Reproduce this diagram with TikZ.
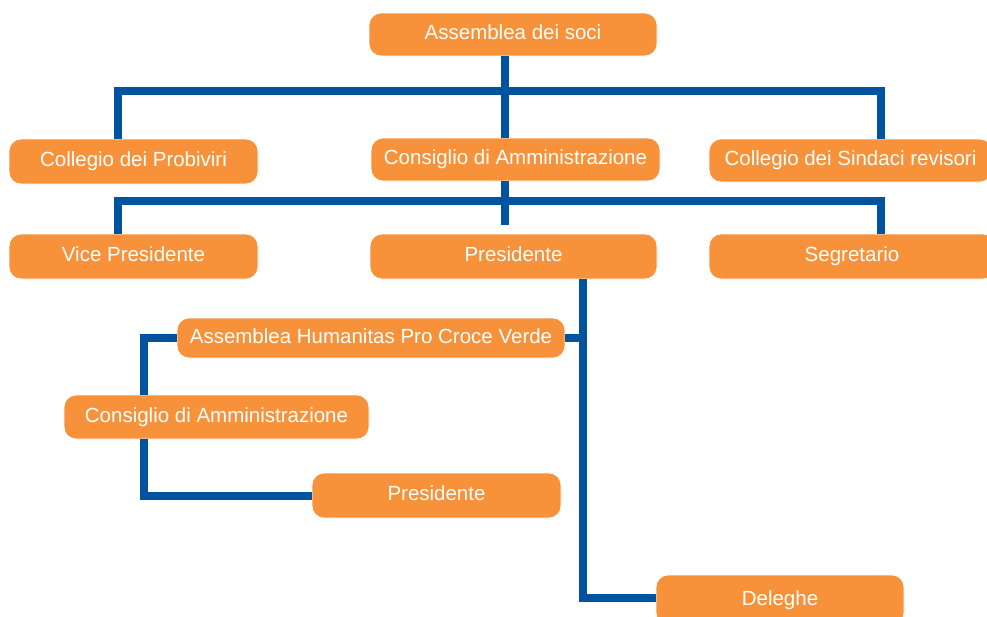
\documentclass[tikz,border=0pt]{standalone}
\usepackage{fontspec}
\setmainfont{Liberation Sans}
\usepackage{tikz}
\definecolor{boxorange}{RGB}{247,146,58}
\definecolor{linkblue}{RGB}{0,83,159}

\begin{document}
\begin{tikzpicture}[x=1pt,y=-1pt,
    box/.style={rectangle,rounded corners=12pt,fill=boxorange,text=white,draw=white,line width=0.8pt,
        minimum height=45pt,inner sep=0pt,text height=15pt,text depth=4.5pt,
        font=\fontsize{20.5}{24}\selectfont},
    link/.style={draw=linkblue,line width=8pt,line join=miter}]
    \useasboundingbox (0,0) rectangle (987,616);

    % top level
    \node[box,minimum width=288pt,minimum height=43pt] (soci) at (513,34.5) {Assemblea dei soci};
    \node[box,minimum width=249pt] (probiviri) at (133.5,161.5) {Collegio dei Probiviri};
    \node[box,minimum width=289pt,minimum height=43pt] (cda) at (515.5,159.5) {Consiglio di Amministrazione};
    \node[box,minimum width=283pt,minimum height=43pt] (sindaci) at (850.5,160.5) {Collegio dei Sindaci revisori};

    % second level
    \node[box,minimum width=249pt] (vice) at (133.5,256.5) {Vice Presidente};
    \node[box,minimum width=287pt] (pres) at (513.5,256.5) {Presidente};
    \node[box,minimum width=286pt] (segr) at (852,256.5) {Segretario};

    % lower part
    \node[box,minimum width=388pt,minimum height=40pt] (humanitas) at (371,338) {Assemblea Humanitas Pro Croce Verde};
    \node[box,minimum width=305pt,minimum height=44pt] (cdab) at (216.5,417) {Consiglio di Amministrazione};
    \node[box,minimum width=249pt] (presb) at (436.5,495.5) {Presidente};
    \node[box,minimum width=248pt,minimum height=50pt] (deleghe) at (780,600) {Deleghe};

    % bus points
    \coordinate (t1) at (118,90.5);
    \coordinate (t2) at (505,90.5);
    \coordinate (t3) at (880.5,90.5);
    \coordinate (m1) at (118,201);
    \coordinate (m2) at (505,225);
    \coordinate (m3) at (880.5,201);
    \coordinate (d) at (583,597.5);
    \coordinate (h) at (144,338);

    \draw[link] (soci.south -| t2) -- (cda.north -| t2);
    \draw[link] (probiviri.north -| t1) -- (t1) -- (t3) -- (sindaci.north -| t3);
    \draw[link] (cda.south -| m2) -- (m2);
    \draw[link] (vice.north -| m1) -- (m1) -- (m3) -- (segr.north -| m3);
    \draw[link] (pres.south -| d) -- (d) -- (deleghe.west |- d);
    \draw[link] (humanitas.east) -- (humanitas.east -| d);
    \draw[link] (humanitas.west) -- (h) -- (cdab.north -| h);
    \draw[link] (cdab.south -| h) |- (presb.west);
\end{tikzpicture}
\end{document}
